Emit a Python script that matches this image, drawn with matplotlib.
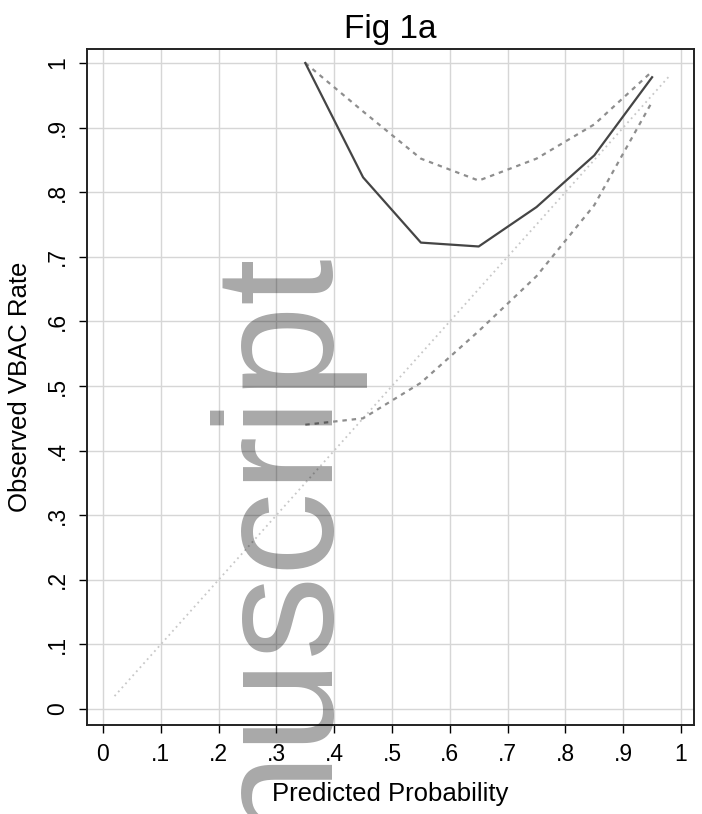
import matplotlib
matplotlib.use('Agg')
import matplotlib.pyplot as plt

# decile midpoints of predicted probability
pred = [0.35, 0.45, 0.55, 0.65, 0.75, 0.85, 0.95]
observed = [1.0, 0.823, 0.722, 0.716, 0.777, 0.857, 0.978]
upper_ci = [1.0, 0.925, 0.852, 0.818, 0.852, 0.905, 0.987]
lower_ci = [0.44, 0.45, 0.505, 0.585, 0.67, 0.78, 0.94]
ref_line = [0.02, 0.98]

ticks = [0, 0.1, 0.2, 0.3, 0.4, 0.5, 0.6, 0.7, 0.8, 0.9, 1.0]
tick_labels = ['0', '.1', '.2', '.3', '.4', '.5', '.6', '.7', '.8', '.9', '1']

plt.rcParams['font.family'] = ['Liberation Sans', 'DejaVu Sans']

fig = plt.figure(figsize=(7.02, 8.14), dpi=100)
ax = fig.add_axes([0.1239, 0.1093, 0.8647, 0.8305])

ax.plot(ref_line, ref_line, color='#c8c8c8', lw=1.3, ls=(0, (1, 2)))
ax.plot(pred, upper_ci, color='#8e8e8e', lw=1.6, ls=(0, (2, 2.2)))
ax.plot(pred, lower_ci, color='#8e8e8e', lw=1.6, ls=(0, (2, 2.2)))
ax.plot(pred, observed, color='#454545', lw=1.6)

ax.set_xlim(-0.0277, 1.0225)
ax.set_ylim(-0.0248, 1.0217)
ax.set_xticks(ticks)
ax.set_xticklabels(tick_labels)
ax.set_yticks(ticks)
ax.set_yticklabels(tick_labels, rotation=90, va='center')
ax.tick_params(direction='out', length=5.8, width=1, labelsize=16.5, pad=7)
ax.grid(True, color='#d6d6d6', lw=1)
ax.set_axisbelow(True)
for s in ax.spines.values():
    s.set_linewidth(1.4)
    s.set_color('#222222')

ax.set_title('Fig 1a', fontsize=24, pad=8)
ax.set_xlabel('Predicted Probability', fontsize=18.5, labelpad=12)
ax.set_ylabel('Observed VBAC Rate', fontsize=18.5, labelpad=10)

# watermark from the manuscript page
fig.text(0.474, 0.683, 'Author Manuscript', fontsize=121, color='black', alpha=0.34,
         rotation=90, rotation_mode='anchor', ha='right', va='baseline', zorder=10)

fig.savefig('out.png', dpi=100)
